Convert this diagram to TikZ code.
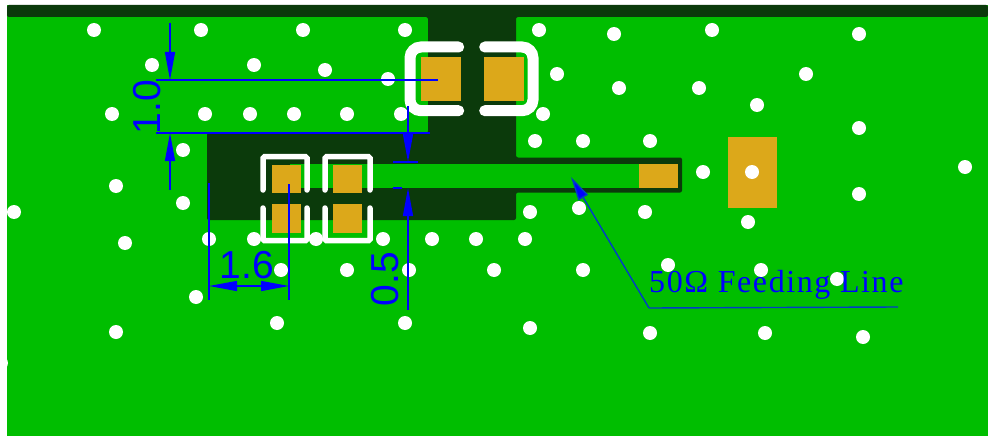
\documentclass[tikz,border=0pt]{standalone}
\usepackage{fontspec}
\setmainfont{Liberation Sans}
\newfontfamily\leaderfont[LetterSpace=5]{Liberation Serif}
\usetikzlibrary{arrows.meta}
\definecolor{pourgreen}{RGB}{0,190,0}
\definecolor{boarddark}{RGB}{11,58,11}
\definecolor{padgold}{RGB}{220,168,26}
\definecolor{dimblue}{RGB}{0,0,255}
\definecolor{leaderblue}{RGB}{0,60,200}
\begin{document}
\begin{tikzpicture}[
				x=1pt, y=-1pt,
				every node/.style={inner sep=0, text=dimblue},
				padcu/.style={fill=padgold, draw=none},
				silkround/.style={draw=white, line width=11pt, line cap=round, rounded corners=11pt},
				silkthin/.style={draw=white, line width=5.5pt, line cap=round, rounded corners=1.5pt},
				dimline/.style={draw=dimblue, line width=1.4pt},
				dimarrow/.style={dimline, -{Triangle[length=28pt,width=10pt]}},
				dimtext/.style={font=\fontsize{39}{39}\selectfont},
			]
			\useasboundingbox (0,0) rectangle (988,436);
			\fill[white] (0,0) rectangle (988,436);
			\fill[pourgreen] (7,5) rectangle (988,436);
			\fill[boarddark, rounded corners=2pt] (7,5) -- (988,5) -- (988,17) -- (516,17) -- (516,157.5)
				-- (682,157.5) -- (682,192.5) -- (516,192.5) -- (516,220) -- (207,220) -- (207,133)
				-- (428,133) -- (428,17) -- (7,17) -- cycle;
			\fill[pourgreen] (290,164) rectangle (660,188);
			% pads
			\fill[padcu] (421,56.7) rectangle (461,100.7);
			\fill[padcu] (484,56.7) rectangle (524,100.7);
			\foreach \padx in {272,333} {
				\fill[padcu] (\padx,165) rectangle +(28.5,28);
				\fill[padcu] (\padx,204) rectangle +(28.5,28.7);
			}
			\fill[padcu] (639,164) rectangle (677.7,188);
			\fill[padcu] (728,136.7) rectangle (776.7,207.7);
			% silk
			\draw[silkround] (458.7,47) -- (410,47) -- (410,110.7) -- (458.7,110.7);
			\draw[silkround] (484.7,47) -- (533,47) -- (533,110.7) -- (484.7,110.7);
			\foreach \silkl/\silkr in {263/307,325/370} {
				\draw[silkthin] (\silkl,190) -- (\silkl,156.7) -- (\silkr,156.7) -- (\silkr,190);
				\draw[silkthin] (\silkl,208) -- (\silkl,240.7) -- (\silkr,240.7) -- (\silkr,208);
			}
			% vias
			\foreach \viax/\viay in {
				94/30,201/30,303/30,405/30,539/30,614/34,712/30,859/34,
				152/65,254/65,325/70,388/79,557/74,806/74,619/88,699/88,757/105,
				112/114,205/114,250/114,294/114,347/114,401/114,543/114,859/128,
				535/141,583/141,650/141,183/150,703/172,752/172,965/167,
				116/186,183/203,859/194,14/212,530/212,579/208,645/212,748/222,
				125/243,209/239,254/239,316/239,383/239,432/239,476/239,525/239,
				281/270,347/270,409/270,494/270,583/270,668/265,761/270,837/279,
				196/297,277/323,405/323,116/332,530/328,650/333,765/333,863/337,1/363} {
				\fill[white] (\viax,\viay) circle (7pt);
			}
			% 1.0
			\coordinate (widthTop) at (170,23);
			\coordinate (widthTopTip) at (170,80);
			\coordinate (widthBot) at (170,190);
			\coordinate (widthBotTip) at (170,133);
			\coordinate (extTopA) at (156,80);
			\coordinate (extTopB) at (438,80);
			\coordinate (extBotA) at (156,133);
			\coordinate (extBotB) at (430,133);
			\draw[dimarrow] (widthTop) -- (widthTopTip);
			\draw[dimarrow] (widthBot) -- (widthBotTip);
			\draw[dimline] (extTopA) -- (extTopB);
			\draw[dimline] (extBotA) -- (extBotB);
			\node[dimtext, rotate=90] (labelGap) at (147,107) {1.0};
			% 0.5
			\coordinate (traceTop) at (408,106);
			\coordinate (traceTopTip) at (408,162);
			\coordinate (traceBot) at (408,310);
			\coordinate (traceBotTip) at (408,188);
			\coordinate (extUpA) at (393,162);
			\coordinate (extUpB) at (418,162);
			\coordinate (extLowA) at (393,188);
			\coordinate (extLowB) at (402,188);
			\draw[dimarrow] (traceTop) -- (traceTopTip);
			\draw[dimarrow] (traceBot) -- (traceBotTip);
			\draw[dimline] (extUpA) -- (extUpB);
			\draw[dimline] (extLowA) -- (extLowB);
			\node[dimtext, rotate=90] (labelTrace) at (385,279) {0.5};
			% 1.6
			\coordinate (stubLeftTop) at (209,183);
			\coordinate (stubLeftBot) at (209,300);
			\coordinate (stubRightTop) at (289,184);
			\coordinate (stubRightBot) at (289,300);
			\coordinate (stubLeftTip) at (209,286);
			\coordinate (stubRightTip) at (289,286);
			\draw[dimline] (stubLeftTop) -- (stubLeftBot);
			\draw[dimline] (stubRightTop) -- (stubRightBot);
			\draw[dimarrow, {Triangle[length=28pt,width=10pt]}-{Triangle[length=28pt,width=10pt]}] (stubLeftTip) -- (stubRightTip);
			\node[dimtext] (labelStub) at (247,265) {1.6};
			% feeding line label
			\coordinate (leaderTip) at (571,177);
			\coordinate (leaderKnee) at (649,308);
			\coordinate (leaderEnd) at (898,307);
			\draw[draw=leaderblue, line width=1.4pt] (leaderEnd) -- (leaderKnee);
			\draw[draw=leaderblue, line width=1.4pt, -{Triangle[length=24pt,width=11pt,fill=dimblue]}] (leaderKnee) -- (leaderTip);
			\node[anchor=base west, font=\leaderfont\fontsize{32}{32}\selectfont] (labelFeed) at (649,292) {50Ω Feeding Line};
			\end{tikzpicture}
\end{document}
